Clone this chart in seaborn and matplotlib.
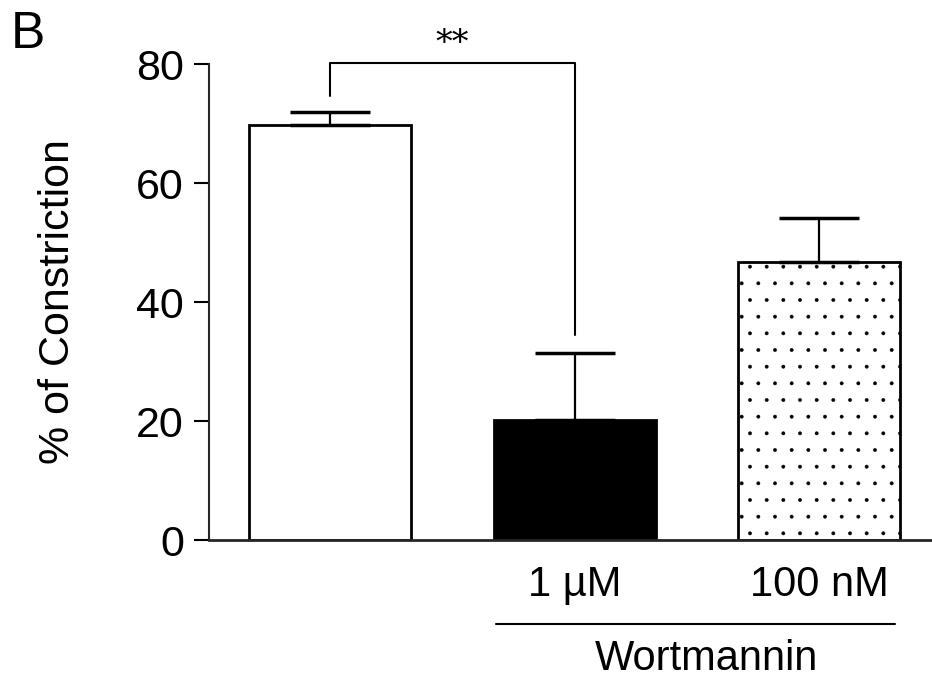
import numpy as np
import pandas as pd
import matplotlib
matplotlib.use("Agg")
import matplotlib.pyplot as plt
import seaborn as sns

# values
groups = ["Control", "1 µM", "100 nM"]
tick_labels = ["", "1 µM", "100 nM"]
constriction = [69.7, 20.1, 46.8]
sem = [2.2, 11.3, 7.3]

sns.set_style("ticks")
plt.rcParams["font.family"] = ["Liberation Sans", "DejaVu Sans"]
plt.rcParams["text.color"] = "black"
plt.rcParams["axes.labelcolor"] = "black"
plt.rcParams["xtick.color"] = "black"
plt.rcParams["ytick.color"] = "black"
plt.rcParams["hatch.color"] = "#9a9a9a"
plt.rcParams["hatch.linewidth"] = 0.3

df = pd.DataFrame({"group": groups, "value": constriction})

fig = plt.figure(figsize=(9.32, 6.81), dpi=100)
ax = fig.add_axes([0.2243, 0.207, 0.776, 0.699])

sns.barplot(data=df, x="group", y="value", ax=ax, width=0.663,
            palette=["white", "black", "white"], hue="group", legend=False,
            edgecolor="black", linewidth=2, errorbar=None)

# stippled last bar
ax.patches[2].set_hatch(".")

# one-sided error bars (upper only)
x = np.arange(len(groups))
ax.errorbar(x, constriction, yerr=[np.zeros(len(sem)), sem], fmt="none",
            ecolor="black", elinewidth=1.6, capsize=29, capthick=2.5, zorder=1)

ax.set_ylim(0, 80)
ax.set_xlim(-0.495, 2.462)
ax.set_yticks([0, 20, 40, 60, 80])
ax.set_xticks(x)
ax.set_xticklabels(tick_labels)
ax.tick_params(axis="y", labelsize=31, width=1.5, length=11, pad=7, direction="out")
ax.tick_params(axis="x", labelsize=30, length=0, pad=18)
ax.set_xlabel("")
ax.set_ylabel("% of Constriction", fontsize=31, labelpad=42)
for s in ["top", "right"]:
    ax.spines[s].set_visible(False)
ax.spines["left"].set_linewidth(1.5)
ax.spines["bottom"].set_linewidth(2)

# significance bracket
ax.plot([0, 0, 1, 1], [74.6, 80.2, 80.2, 34.4], color="black", lw=1.5, clip_on=False)
ax.text(0.5, 83.4, "**", ha="center", va="center", fontsize=24, family="DejaVu Serif")

# Wortmannin group label
trans = ax.get_xaxis_transform()
ax.plot([0.68, 2.31], [-0.176, -0.176], color="black", lw=1.5, transform=trans, clip_on=False)
ax.text(1.54, -0.274, "Wortmannin", ha="center", va="baseline", fontsize=30, transform=trans)

fig.text(0.012, 0.985, "B", fontsize=37, ha="left", va="top")

fig.savefig("out.png", dpi=100)
